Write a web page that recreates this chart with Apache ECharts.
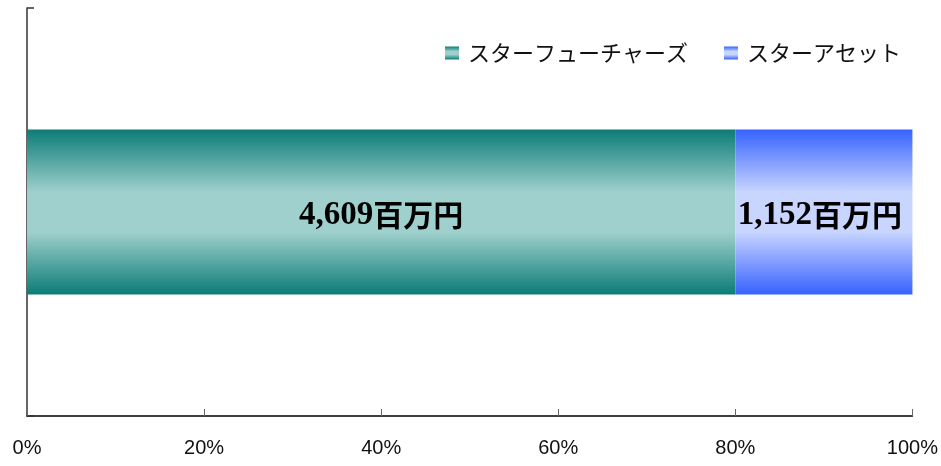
<!DOCTYPE html>
<html><head><meta charset="utf-8">
<script src="https://cdn.jsdelivr.net/npm/echarts@6/dist/echarts.min.js"></script>
<style>html,body{margin:0;padding:0;background:#fff}#c{width:941px;height:466px}</style>
</head><body><div id="c"></div>
<script>
const categories = ['合計'];
const seriesNames = ['スターフューチャーズ', 'スターアセット'];
const seriesValues = [4609, 1152]; // 百万円
const tickLabels = ['0%', '20%', '40%', '60%', '80%', '100%'];

const total = seriesValues.reduce((a, b) => a + b, 0);
const pct = seriesValues.map(v => v / total * 100);

function grad(edge, mid) {
  return new echarts.graphic.LinearGradient(0, 0, 0, 1, [
    {offset: 0, color: edge},
    {offset: 0.38, color: mid},
    {offset: 0.62, color: mid},
    {offset: 1, color: edge}
  ]);
}
const colors = [grad('#0c7c76', '#9fd0cd'), grad('#3762ff', '#c8d5ff')];

const chart = echarts.init(document.getElementById('c'));
chart.setOption({
  animation: false,
  grid: {left: 27, right: 28, top: 8, bottom: 50, containLabel: false},
  legend: {
    top: 37, right: 35,
    itemWidth: 14, itemHeight: 13, itemGap: 36,
    icon: 'rect',
    textStyle: {fontFamily: 'Noto Sans CJK JP', fontSize: 22, color: '#111', padding: [0, 0, 0, 4]},
    data: seriesNames
  },
  xAxis: {
    type: 'value', min: 0, max: 100, interval: 20,
    axisLine: {show: true, lineStyle: {color: '#000', width: 1.5}},
    axisTick: {show: true, inside: true, length: 7, lineStyle: {color: '#666'}},
    splitLine: {show: false},
    axisLabel: {
      margin: 22,
      formatter: v => tickLabels[Math.round(v / 20)],
      fontFamily: 'Liberation Sans', fontSize: 20, color: '#111'
    }
  },
  yAxis: {
    type: 'category', data: categories,
    axisLine: {show: true, lineStyle: {color: '#333', width: 1.5}},
    axisTick: {show: true, inside: true, length: 7, lineStyle: {color: '#333', width: 1.5}},
    axisLabel: {show: false}
  },
  series: seriesNames.map((name, i) => ({
    name: name, type: 'bar', stack: 'total',
    barWidth: '40.4%',
    itemStyle: {color: colors[i]},
    data: [pct[i]],
    label: {
      show: true, position: 'inside', offset: [i === 1 ? -4 : 0, 3],
      formatter: () => '{a|' + seriesValues[i].toLocaleString('en-US') + '}{b|百万円}',
      rich: {
        a: {fontFamily: 'Liberation Serif', fontWeight: 'bold', fontSize: 33, color: '#000'},
        b: {fontFamily: 'Noto Sans CJK JP', fontWeight: 'bold', fontSize: 30, color: '#000'}
      }
    }
  }))
});
</script></body></html>
